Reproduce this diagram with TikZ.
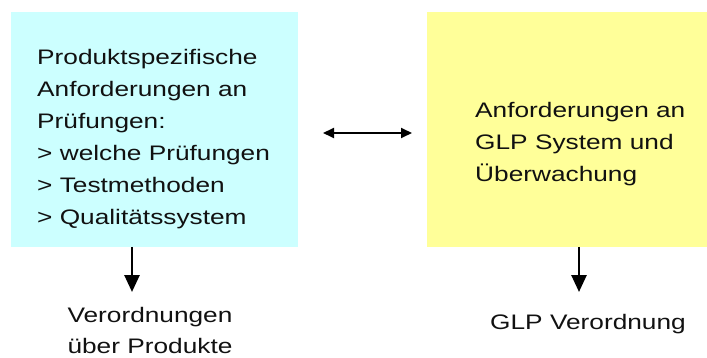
\documentclass[tikz,border=0pt]{standalone}
\usepackage{fontspec}
\setmainfont{Liberation Sans}[FakeStretch=1.25]
\usetikzlibrary{arrows.meta}
\definecolor{boxcyan}{HTML}{CCFFFF}
\definecolor{boxyellow}{HTML}{FFFF99}
\definecolor{txt}{HTML}{111111}
\tikzset{
  box/.style={draw=none, inner sep=0pt, anchor=north west},
  boxtext/.style={anchor=base west, align=left, inner sep=0pt, text=txt,
    font=\fontsize{21}{32}\selectfont},
  label/.style={anchor=base, align=center, inner sep=0pt, text=txt,
    font=\fontsize{21}{31}\selectfont},
  downarrow/.style={line width=2.7pt, -{Triangle[length=17pt,width=15pt]}},
  bothways/.style={line width=1.8pt, {Triangle[length=11pt,width=10pt]}-{Triangle[length=11pt,width=10pt]}}
}
\begin{document}
\begin{tikzpicture}[x=1pt,y=-1pt]
\useasboundingbox (0,0) rectangle (707,358);
\node[box, fill=boxcyan, minimum width=287pt, minimum height=235pt] (L) at (11,12) {};
\node[box, fill=boxyellow, minimum width=280pt, minimum height=235pt] (R) at (427,12) {};
\node[boxtext] (Lt) at (37,225) {Produktspezifische\\Anforderungen an\\Prüfungen:\\> welche Prüfungen\\> Testmethoden\\> Qualitätssystem};
\node[boxtext] (Rt) at (475,182) {Anforderungen an\\GLP System und\\Überwachung};
\node[label] (Lb) at (150,353) {Verordnungen\\über Produkte};
\node[label] (Rb) at (588,329) {GLP Verordnung};
\coordinate (la) at (132,247);
\coordinate (lb) at (132,292);
\coordinate (ra) at (579,247);
\coordinate (rb) at (579,292);
\draw[downarrow] (la) -- (lb);
\draw[downarrow] (ra) -- (rb);
\coordinate (da) at (323,133);
\coordinate (db) at (412,133);
\draw[bothways] (da) -- (db);
\end{tikzpicture}
\end{document}
